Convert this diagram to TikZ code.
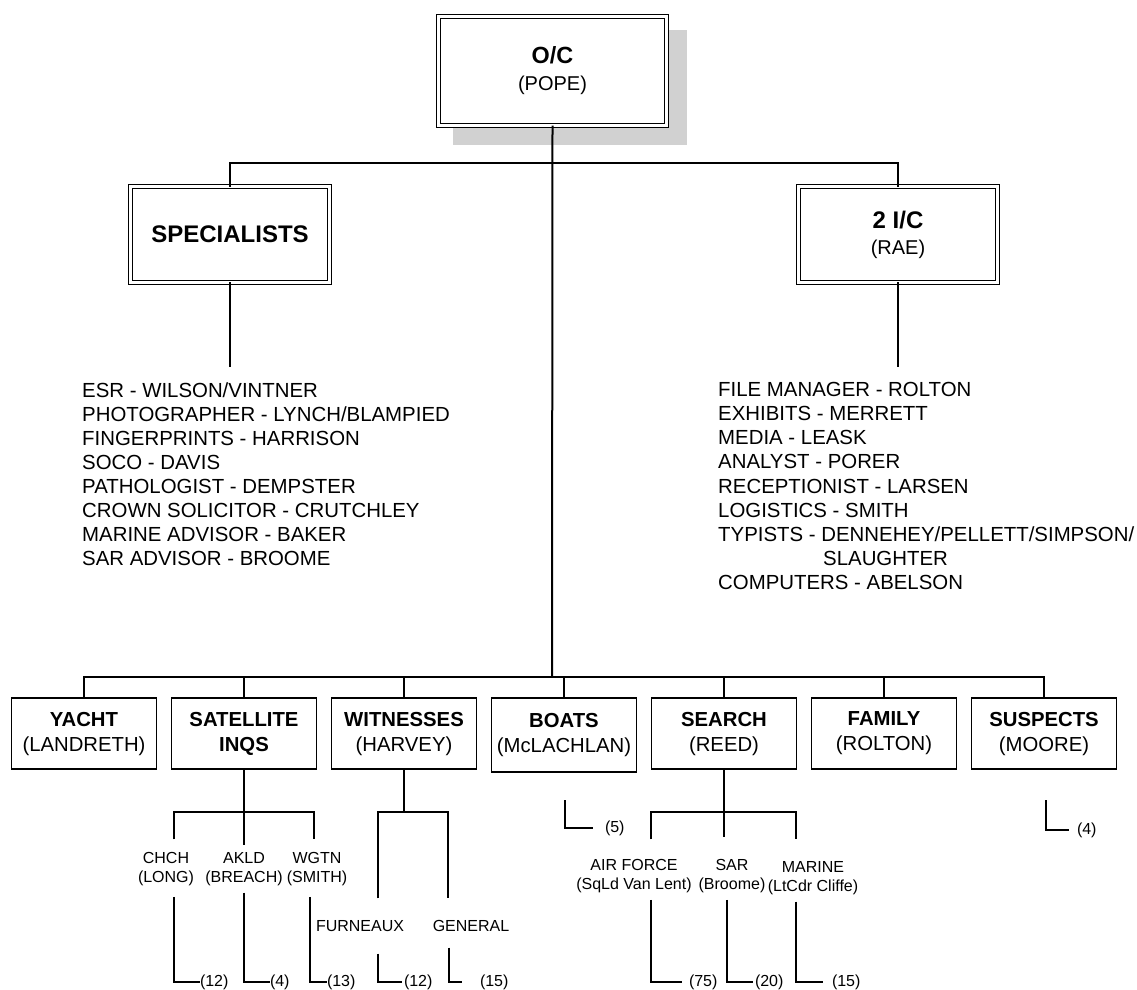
\documentclass[tikz,border=0pt]{standalone}
\usepackage{fontspec}
\setmainfont{Liberation Sans}
\begin{document}
\begin{tikzpicture}[x=1pt,y=-1pt,
  chief/.style={draw,double,line width=1.2pt,double distance=2.8pt,fill=white,inner sep=0pt,outer sep=0pt,align=center},
  unit/.style={draw,line width=1.4pt,fill=white,minimum width=145pt,minimum height=71pt,inner sep=0pt,outer sep=0pt,align=center,font=\fontsize{20.3}{25}\selectfont},
  tag/.style={inner xsep=0pt,inner ysep=7pt,outer sep=0pt,align=center,font=\fontsize{16}{19}\selectfont},
  cnt/.style={anchor=west,inner ysep=0pt,inner xsep=0pt,outer sep=0pt,font=\fontsize{16}{19}\selectfont},
  duty/.style={anchor=base west,inner sep=0pt,font=\fontsize{20.4}{24}\selectfont},
  link/.style={line width=1.2pt}]
\useasboundingbox (0,0) rectangle (1137,989);
\fill[black!18] (453,30) rectangle (687,145);
\node[chief,minimum width=227.8pt,minimum height=109pt,font=\fontsize{20}{27}\selectfont] (oc) at (552.5,71) {{\fontsize{23.4}{27}\selectfont\bfseries O/C}\\(POPE)};
\node[chief,minimum width=198.8pt,minimum height=95.8pt,font=\fontsize{24}{28}\selectfont\bfseries] (spec) at (230,234.5) {SPECIALISTS};
\node[chief,minimum width=198.8pt,minimum height=95.8pt,font=\fontsize{20}{26}\selectfont] (ic) at (898,234.5) {{\fontsize{24}{26}\selectfont\bfseries 2 I/C}\\(RAE)};
\coordinate (topbus) at (552,163);
\coordinate (hub) at (552,677);
\coordinate (specend) at (230,367);
\coordinate (icend) at (898,367);
\draw[link] (spec.north) |- (topbus) -| (ic.north);
\draw[line width=2pt] (oc.south) -- (hub);
\draw[link] (spec.south) -- (specend);
\draw[link] (ic.south) -- (icend);
\foreach \txt [count=\i] in {ESR - WILSON/VINTNER, PHOTOGRAPHER - LYNCH/BLAMPIED, FINGERPRINTS - HARRISON, SOCO - DAVIS, PATHOLOGIST - DEMPSTER, CROWN SOLICITOR - CRUTCHLEY, MARINE ADVISOR - BAKER, SAR ADVISOR - BROOME}
  \node[duty] (sp\i) at (82,{397.2+24.1*(\i-1)}) {\txt};
\foreach \txt [count=\i] in {FILE MANAGER - ROLTON, EXHIBITS - MERRETT, MEDIA - LEASK, ANALYST - PORER, RECEPTIONIST - LARSEN, LOGISTICS - SMITH, TYPISTS - DENNEHEY/PELLETT/SIMPSON/, {\hspace*{105pt}SLAUGHTER}, COMPUTERS - ABELSON}
  \node[duty] (ad\i) at (718,{396.2+24.2*(\i-1)}) {\txt};
\node[unit] (yacht) at (84,733.5) {\textbf{YACHT}\\(LANDRETH)};
\node[unit] (sat) at (244,733.5) {\textbf{SATELLITE}\\\textbf{INQS}};
\node[unit] (wit) at (404,733.5) {\textbf{WITNESSES}\\(HARVEY)};
\node[unit,minimum height=74pt] (boats) at (564,735) {\textbf{BOATS}\\(McLACHLAN)};
\node[unit] (search) at (724,733.5) {\textbf{SEARCH}\\(REED)};
\node[unit] (family) at (884,733.5) {\textbf{FAMILY}\\(ROLTON)};
\node[unit] (suspects) at (1044,733.5) {\textbf{SUSPECTS}\\(MOORE)};
\draw[link] (yacht.north) |- (hub) -| (suspects.north);
\foreach \n in {sat,wit,boats,search,family}
  \draw[link] (\n.north) -- (\n.north |- hub);
\coordinate (satbus) at (244,812);
\node[tag] (chch) at (166,869) {CHCH\\(LONG)};
\node[tag] (akld) at (244,869) {AKLD\\(BREACH)};
\node[tag] (wgtn) at (317,869) {WGTN\\(SMITH)};
\draw[link] (sat.south) -- (akld.north);
\draw[link] ([xshift=8pt,yshift=6pt]chch.north) |- (satbus) -| ([xshift=-3pt,yshift=6pt]wgtn.north);
\node[cnt] (n12a) at (200,982) {(12)};
\node[cnt] (n4a) at (270,982) {(4)};
\node[cnt] (n13) at (327,982) {(13)};
\draw[link] ([xshift=8pt,yshift=-4pt]chch.south) |- (n12a.west);
\draw[link] (akld.south) |- (n4a.west);
\draw[link] ([xshift=-7pt,yshift=-4pt]wgtn.south) |- (n13.west);
\coordinate (witbus) at (404,812);
\node[tag,inner ysep=22pt] (furn) at (360,926) {FURNEAUX};
\node[tag,inner ysep=22pt] (gen) at (471,926) {GENERAL};
\draw[link] (wit.south) -- (witbus);
\draw[link] ([xshift=18pt]furn.north) |- (witbus) -| ([xshift=-23pt]gen.north);
\node[cnt,inner xsep=2pt] (n12b) at (402,982) {(12)};
\node[cnt,inner xsep=18pt] (n15a) at (462,982) {(15)};
\draw[link] ([xshift=18pt]furn.south) |- (n12b.west);
\draw[link] ([xshift=-22pt,yshift=6pt]gen.south) |- (n15a.west);
\coordinate (searchbus) at (724,812);
\node[tag] (airf) at (634,876) {AIR FORCE\\(SqLd Van Lent)};
\node[tag] (sar) at (732,876) {SAR\\(Broome)};
\node[tag] (marine) at (813,878) {MARINE\\(LtCdr Cliffe)};
\draw[link] (search.south) -- ([yshift=-25pt]searchbus);
\draw[link] ([xshift=17pt,yshift=13pt]airf.north) |- (searchbus) -| ([xshift=-17pt,yshift=15pt]marine.north);
\node[cnt,inner xsep=7pt] (n75) at (682,982) {(75)};
\node[cnt,inner xsep=2pt] (n20) at (753,982) {(20)};
\node[cnt,inner xsep=9pt] (n15b) at (823,982) {(15)};
\draw[link] ([xshift=17pt]airf.south) |- (n75.west);
\draw[link] ([xshift=-5pt]sar.south) |- (n20.west);
\draw[link] ([xshift=-17pt]marine.south) |- (n15b.west);
\node[cnt,inner xsep=12pt] (n5) at (593,828) {(5)};
\draw[link] ([xshift=1pt,yshift=-28pt]boats.south) |- (n5.west);
\node[cnt,inner xsep=8pt] (n4b) at (1069,830) {(4)};
\draw[link] ([xshift=2pt,yshift=-31pt]suspects.south) |- (n4b.west);
\end{tikzpicture}
\end{document}
